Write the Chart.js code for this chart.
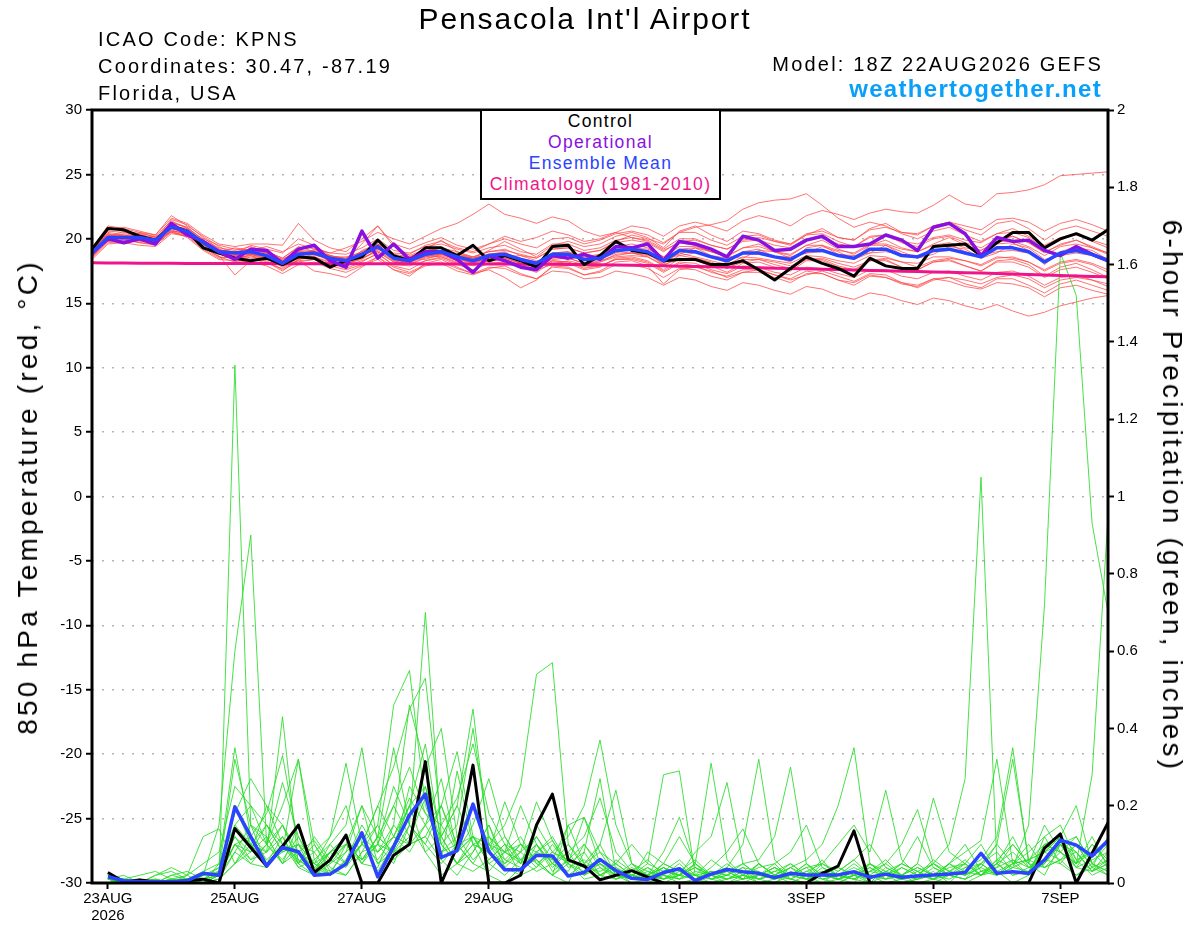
<!DOCTYPE html>
<html>
<head>
<meta charset="utf-8">
<title>Pensacola Int'l Airport - GEFS meteogram</title>
<script src="https://cdn.jsdelivr.net/npm/chart.js@4.4.1/dist/chart.umd.min.js"></script>
<style>
  body { margin: 0; background: #fff; }
  #wrap { position: relative; width: 1200px; height: 927px; overflow: hidden; background: #fff;
          font-family: 'Liberation Sans', Arial, Helvetica, sans-serif; color: #000; }
  #chart { position: absolute; left: 0; top: 0; }
  .txt { position: absolute; white-space: nowrap; line-height: 1; }
  .title { left: 585px; top: 4px; font-size: 30px; letter-spacing: 1.9px; transform: translateX(-50%); }
  .info { left: 98px; font-size: 20px; letter-spacing: 2.2px; }
  .model { right: 97px; top: 54px; font-size: 20px; letter-spacing: 2.2px; }
  .site { right: 98px; top: 77px; font-size: 24px; font-weight: bold; letter-spacing: 1.3px; color: #0aa0f8; }
  #legend { position: absolute; left: 480px; top: 109px; width: 237px; height: 87px; border: 2px solid #000; background: #fff; }
  #legend div { position: absolute; left: 0; width: 100%; text-align: center; font-size: 17.5px; letter-spacing: 1.3px; line-height: 1; }
  .axis-title { position: absolute; white-space: nowrap; line-height: 1; font-size: 28px; letter-spacing: 3.2px; }
</style>
</head>
<body>
<div id="wrap">
  <canvas id="chart" width="1200" height="927"></canvas>

  <div class="txt title">Pensacola Int'l Airport</div>
  <div class="txt info" style="top:29px">ICAO Code: KPNS</div>
  <div class="txt info" style="top:56px">Coordinates: 30.47, -87.19</div>
  <div class="txt info" style="top:83px">Florida, USA</div>
  <div class="txt model">Model: 18Z 22AUG2026 GEFS</div>
  <div class="txt site">weathertogether.net</div>

  <div id="legend">
    <div style="top:2px;color:#000">Control</div>
    <div style="top:23px;color:#8a10e0">Operational</div>
    <div style="top:44px;color:#2a44ff">Ensemble Mean</div>
    <div style="top:65px;color:#f0148c">Climatology (1981-2010)</div>
  </div>

  <div class="axis-title" style="left:28px;top:497px;transform:translate(-50%,-50%) rotate(-90deg)">850 hPa Temperature (red, °C)</div>
  <div class="axis-title" style="left:1172px;top:496px;transform:translate(-50%,-50%) rotate(90deg)">6-hour Precipitation (green, inches)</div>
</div>

<script>
const FONT = "'Liberation Sans', Arial, Helvetica, sans-serif";

// 6-hourly steps from 18Z 22AUG2026 (index 0) to 18Z 7SEP2026 (index 64)
const stepHours = 6;
const tickHours = [6, 54, 102, 150, 222, 270, 318, 366];
const tickLabels = [['23AUG', '2026'], '25AUG', '27AUG', '29AUG', '1SEP', '3SEP', '5SEP', '7SEP'];

// 850 hPa temperature (C)
const tempControl = [
    19.2, 20.8, 20.7, 20.2, 19.9, 21.0, 20.6, 19.3,
    18.9, 18.5, 18.3, 18.5, 18.0, 18.6, 18.5, 17.8,
    18.3, 18.6, 19.9, 18.7, 18.3, 19.3, 19.3, 18.7,
    19.5, 18.3, 18.7, 18.3, 17.8, 19.4, 19.5, 18.0,
    18.7, 19.8, 19.1, 18.9, 18.3, 18.4, 18.4, 18.0,
    18.0, 18.3, 17.6, 16.8, 17.7, 18.6, 18.1, 17.7,
    17.1, 18.5, 17.9, 17.7, 17.7, 19.4, 19.5, 19.6,
    18.7, 19.7, 20.5, 20.5, 19.3, 20.0, 20.4, 19.9,
    20.7,
];

const tempOperational = [
    18.9, 20.0, 19.7, 20.0, 19.6, 21.2, 20.3, 19.8,
    19.0, 18.4, 19.2, 19.1, 18.1, 19.2, 19.5, 18.3,
    17.8, 20.6, 18.5, 19.6, 18.4, 19.0, 19.0, 18.4,
    17.4, 18.7, 18.3, 17.8, 17.6, 18.7, 18.5, 18.8,
    18.4, 19.4, 19.3, 19.6, 18.3, 19.8, 19.6, 19.2,
    18.6, 20.2, 19.9, 19.1, 19.2, 19.9, 20.2, 19.4,
    19.4, 19.6, 20.3, 19.9, 19.1, 20.9, 21.2, 20.4,
    18.7, 20.1, 19.8, 19.9, 19.1, 18.7, 19.4, 18.8,
    18.3,
];

const tempMean = [
    18.9, 20.1, 20.1, 20.1, 19.9, 20.9, 20.6, 19.7,
    19.0, 18.9, 19.0, 18.7, 18.1, 18.8, 18.9, 18.5,
    18.3, 18.8, 19.4, 18.5, 18.3, 18.8, 19.0, 18.6,
    18.3, 18.7, 18.8, 18.4, 18.1, 18.8, 18.8, 18.4,
    18.5, 19.1, 19.2, 19.0, 18.3, 19.1, 19.0, 18.6,
    18.3, 18.9, 18.9, 18.6, 18.4, 19.1, 19.1, 18.7,
    18.5, 19.2, 19.2, 18.7, 18.6, 19.1, 19.2, 18.9,
    18.6, 19.3, 19.3, 19.0, 18.2, 18.9, 19.1, 18.8,
    18.3,
];

const tempClimatology = [
    18.15, 18.13, 18.12, 18.11, 18.10, 18.10, 18.09, 18.09,
    18.08, 18.08, 18.08, 18.08, 18.07, 18.07, 18.07, 18.07,
    18.07, 18.06, 18.06, 18.06, 18.06, 18.05, 18.05, 18.05,
    18.05, 18.04, 18.04, 18.03, 18.03, 18.02, 18.01, 18.00,
    17.99, 17.97, 17.95, 17.93, 17.91, 17.88, 17.86, 17.83,
    17.81, 17.78, 17.75, 17.72, 17.70, 17.67, 17.64, 17.61,
    17.58, 17.55, 17.52, 17.49, 17.46, 17.43, 17.40, 17.37,
    17.34, 17.31, 17.27, 17.24, 17.20, 17.16, 17.12, 17.08,
    17.05,
];

const tempMembers = [
    [19.0,20.5,20.3,20.0,19.8,21.3,20.9,19.9, 19.2,18.6,19.3,19.0,18.5,19.4,19.0,18.2, 18.0,19.1,19.6,18.9,18.8,19.5,19.8,19.3, 19.0,19.6,20.2,19.8,20.1,20.6,20.3,19.8, 20.0,20.5,21.0,20.8,20.2,21.0,21.3,21.0, 20.6,21.4,21.8,21.5,21.0,21.8,22.2,21.9, 21.5,22.0,22.3,22.1,22.0,22.6,23.4,22.7, 22.5,23.5,23.6,23.8,24.2,24.9,25.0,25.1, 25.2],
    [18.6,19.8,19.9,19.7,19.6,20.5,20.3,19.4, 18.6,18.2,18.6,18.3,17.6,18.2,18.4,17.9, 17.6,18.0,18.6,17.8,17.4,18.0,18.2,17.7, 17.3,17.8,17.7,17.2,16.9,17.5,17.4,16.9, 17.0,17.5,17.3,17.0,16.4,17.0,16.8,16.3, 16.0,16.6,16.4,16.0,15.7,16.3,16.1,15.6, 15.3,15.8,15.6,15.2,14.9,15.4,15.2,14.8, 14.5,14.9,14.4,14.0,14.3,14.8,15.1,15.4, 15.6],
    [19.3,20.9,20.6,20.4,20.2,21.4,20.8,20.0, 19.5,19.2,19.1,19.4,19.0,19.6,19.2,18.9, 19.3,19.8,20.5,20.0,19.6,20.2,20.8,21.2, 21.9,22.7,21.9,21.6,21.2,21.7,21.4,20.6, 20.2,20.5,20.1,19.8,19.1,19.7,19.5,19.0, 18.6,19.3,19.6,19.0,18.7,19.5,19.9,19.2, 18.8,19.5,19.9,19.3,19.0,19.6,20.1,19.5, 19.1,19.8,20.2,19.7,19.0,19.5,19.9,19.3, 18.9],
    [18.8,20.2,20.2,20.3,20.0,21.0,20.8,19.8, 19.1,19.0,18.8,18.6,18.4,19.1,19.0,18.6, 18.5,19.0,19.5,18.6,18.6,19.0,19.3,18.8, 18.6,19.0,19.2,18.7,18.5,19.2,19.3,18.9, 19.1,19.8,20.3,20.0,19.6,20.5,20.9,21.1, 21.4,22.3,22.8,23.0,23.1,23.5,22.6,21.6, 20.9,21.3,21.0,20.4,20.0,20.6,20.9,20.3, 19.8,20.4,20.8,20.2,19.5,20.1,20.4,19.8, 19.3],
    [18.7,20.0,20.0,19.8,19.7,20.6,20.4,19.5, 18.8,18.7,18.8,18.4,17.9,18.6,18.6,18.2, 18.0,18.5,19.0,18.2,18.0,18.5,18.7,18.3, 18.0,18.3,18.4,18.0,17.7,18.3,18.2,17.8, 17.9,18.4,18.5,18.2,17.5,18.2,18.1,17.6, 17.3,17.9,17.8,17.4,17.2,17.8,17.7,17.3, 17.0,17.6,17.6,17.1,16.9,17.4,17.5,17.1, 16.8,17.4,17.5,17.1,16.4,17.0,17.2,16.8, 16.3],
    [19.1,20.6,20.5,20.3,20.1,21.2,20.9,19.9, 19.3,19.1,19.4,19.0,18.5,19.3,19.3,18.9, 18.8,19.3,20.0,19.1,18.9,19.4,19.6,19.2, 18.9,19.3,19.5,19.0,18.8,19.6,19.6,19.1, 19.3,19.9,20.1,19.9,19.2,20.0,20.0,19.5, 19.2,19.8,19.9,19.5,19.3,20.0,20.1,19.6, 19.4,20.2,20.3,19.8,19.6,20.1,20.3,19.9, 19.7,20.4,20.5,20.1,19.3,20.0,20.3,19.9, 19.5],
    [18.5,19.7,19.8,19.9,19.6,20.7,20.3,19.3, 18.6,18.5,18.7,18.2,17.5,18.4,18.6,18.1, 17.7,18.2,18.9,17.9,17.6,18.3,18.5,18.0, 17.6,18.1,18.2,17.8,17.4,18.2,18.1,17.6, 17.8,18.5,18.6,18.3,17.6,18.5,18.3,17.9, 17.4,18.1,18.2,17.8,17.5,18.3,18.3,17.8, 17.5,18.3,18.4,17.8,17.6,18.2,18.4,17.9, 17.5,18.3,18.4,18.0,17.1,17.8,18.1,17.6, 17.0],
    [19.0,20.4,20.0,20.5,20.3,21.8,21.0,20.2, 19.4,18.8,19.5,19.2,18.9,20.0,19.5,18.7, 18.4,19.6,21.0,19.4,18.7,19.2,19.9,19.0, 18.5,19.1,19.8,19.2,18.6,19.5,19.8,19.4, 19.6,20.2,20.5,20.1,19.3,20.6,21.0,20.3, 19.8,20.6,20.4,19.9,19.6,20.3,20.8,20.1, 19.9,20.8,21.2,20.5,20.3,21.0,21.3,20.7, 20.3,21.2,21.4,20.8,19.9,20.7,21.0,20.6, 20.2],
    [18.8,20.0,20.3,20.0,19.8,20.8,20.4,19.5, 18.9,18.4,18.8,18.9,18.3,18.5,19.2,18.6, 18.1,18.4,19.2,18.7,18.5,18.4,18.8,18.9, 18.4,18.2,18.6,18.7,18.3,18.5,18.9,18.6, 18.4,18.9,19.3,19.2,18.6,18.8,19.3,19.0, 18.6,18.5,19.1,19.0,18.5,18.9,19.4,19.0, 18.4,18.9,19.5,19.0,18.5,18.8,19.4,19.2, 18.5,18.9,19.6,19.3,18.4,18.7,19.3,19.1, 18.4],
    [19.2,20.3,19.9,20.0,20.2,20.5,20.2,19.6, 19.0,19.3,19.1,18.5,17.8,18.4,18.7,18.6, 18.6,18.9,19.0,18.2,18.1,18.7,18.6,18.1, 18.0,18.6,18.3,17.9,17.6,18.0,18.3,18.0, 18.2,18.6,18.7,18.6,18.0,18.4,18.5,18.2, 17.7,18.2,18.4,18.2,17.9,18.4,18.5,18.1, 17.8,18.3,18.5,18.2,17.8,18.3,18.5,18.3, 17.9,18.5,18.6,18.2,17.6,18.2,18.4,18.1, 17.6],
    [18.6,20.1,20.6,20.4,19.9,21.5,21.1,20.1, 19.2,18.9,18.9,18.6,18.0,18.9,18.8,18.3, 18.0,18.8,19.6,18.4,18.1,19.0,19.3,18.5, 18.1,18.8,19.0,18.3,17.8,18.9,19.0,18.3, 18.4,19.3,19.4,18.9,18.0,19.2,19.3,18.7, 18.1,19.0,19.2,18.6,18.2,19.3,19.5,18.8, 18.4,19.5,19.5,18.8,18.5,19.4,19.6,19.0, 18.5,19.6,19.7,19.1,18.0,19.0,19.4,18.9, 18.2],
    [18.9,19.9,20.0,19.7,19.5,20.6,20.1,19.1, 18.4,18.3,18.2,17.9,17.3,18.0,18.2,17.7, 17.4,17.9,18.4,17.6,17.3,17.9,18.1,17.5, 17.2,17.7,17.9,17.3,16.9,17.8,17.7,17.2, 17.4,18.0,18.0,17.7,17.0,17.7,17.6,17.1, 16.8,17.4,17.4,17.0,16.6,17.3,17.3,16.8, 16.4,17.1,17.0,16.5,16.3,16.9,17.0,16.5, 16.2,16.9,16.9,16.4,15.8,16.5,16.8,16.4, 16.0],
    [19.0,20.2,20.4,20.2,20.0,21.1,20.7,19.8, 19.1,19.0,19.2,18.9,18.4,19.0,19.1,18.7, 18.5,19.0,19.6,18.8,18.6,19.1,19.3,19.0, 18.6,19.0,19.1,18.8,18.5,19.2,19.3,18.9, 19.1,19.7,19.9,19.7,19.0,19.8,19.9,19.5, 19.2,19.9,20.1,19.8,19.6,20.4,20.6,20.1, 19.9,20.7,20.9,20.5,20.4,21.0,21.3,21.0, 20.7,21.5,21.6,21.3,20.6,21.2,21.5,21.1, 20.6],
    [18.4,19.6,19.7,19.5,19.4,20.4,20.2,19.2, 18.5,18.6,18.5,18.1,17.7,18.3,18.4,18.0, 17.9,18.3,18.8,18.0,17.9,18.3,18.6,18.2, 17.9,18.3,18.3,17.9,17.6,18.3,18.2,17.7, 17.9,18.4,18.4,18.1,17.4,18.1,17.9,17.4, 17.1,17.6,17.6,17.2,16.9,17.5,17.3,16.8, 16.6,17.2,17.0,16.6,16.4,16.9,16.7,16.3, 16.1,16.6,16.5,16.2,15.5,16.2,16.4,16.0, 15.7],
    [19.3,21.0,20.8,20.5,20.1,21.0,20.5,19.6, 19.0,18.7,19.2,19.0,18.3,18.7,19.0,18.7, 18.4,18.7,19.2,18.6,18.4,18.6,18.9,18.7, 18.5,18.8,18.5,18.1,18.0,18.5,18.6,18.4, 18.8,19.0,18.9,18.7,18.5,18.7,18.9,18.7, 18.5,18.9,18.8,18.6,18.6,18.9,19.0,18.8, 18.7,18.9,19.0,18.8,18.7,19.0,19.1,18.9, 18.7,19.0,19.1,18.9,18.3,18.7,18.9,18.7, 18.2],
    [18.6,20.0,19.8,20.1,19.9,21.0,20.4,19.6, 19.1,18.5,18.7,18.4,18.2,19.0,18.8,18.4, 18.2,18.6,19.3,18.3,18.2,18.7,18.8,18.4, 18.2,18.5,18.5,18.1,18.0,18.6,18.5,18.1, 18.3,18.7,18.9,18.8,18.1,18.9,18.6,18.3, 18.0,18.6,18.5,18.3,18.1,18.7,18.6,18.3, 18.1,18.7,18.6,18.2,18.1,18.6,18.6,18.3, 18.0,18.6,18.5,18.2,17.5,18.1,18.3,18.0, 17.4],
    [19.0,20.7,20.9,20.6,20.3,21.6,21.2,20.3, 19.6,19.4,19.6,19.6,19.5,21.2,19.9,19.3, 19.0,20.0,21.0,19.6,19.2,19.7,20.1,19.5, 19.2,19.6,20.0,19.6,19.3,20.0,20.1,19.6, 19.9,20.4,20.6,20.3,19.7,20.5,20.5,19.9, 19.5,20.2,20.3,19.8,19.5,20.3,20.4,19.8, 19.4,20.1,20.3,19.7,19.4,20.0,20.2,19.7, 19.3,20.0,20.2,19.7,18.9,19.6,19.9,19.4, 18.9],
    [18.7,19.8,20.1,20.0,19.8,20.6,20.5,19.6, 18.9,18.8,18.8,18.5,17.9,18.5,18.8,18.4, 18.1,18.5,19.1,18.3,18.0,18.6,18.8,18.4, 18.1,18.5,18.6,18.1,17.8,18.4,18.5,18.1, 18.2,18.8,18.9,18.6,17.9,18.7,18.5,18.1, 17.7,18.4,18.4,18.0,17.7,18.4,18.4,17.9, 17.6,18.3,18.3,17.8,17.6,18.2,18.3,17.9, 17.5,18.2,18.2,17.8,17.0,17.6,17.8,17.4, 16.9],
    [19.1,20.4,20.2,19.9,19.8,20.8,20.6,19.4, 18.7,17.2,18.3,18.5,17.9,18.3,17.5,17.3, 17.0,17.8,18.6,17.6,17.1,18.1,18.4,17.8, 17.3,17.6,17.0,16.2,16.8,17.9,17.8,17.2, 17.5,18.2,18.3,17.9,16.5,17.6,17.8,17.5, 17.0,17.4,17.6,17.2,16.8,17.2,17.5,17.1, 16.7,17.3,17.2,16.6,16.2,16.8,17.0,16.8, 16.5,17.0,17.2,16.9,16.2,16.8,17.0,16.8, 16.5],
    [18.9,20.3,20.2,20.2,20.0,21.1,20.6,19.8, 19.1,19.0,19.1,18.9,18.2,18.9,19.0,18.6, 18.3,18.9,19.5,18.6,18.4,18.9,19.1,18.7, 18.5,18.8,18.9,18.5,18.2,18.9,19.0,18.6, 18.8,19.4,19.6,19.3,18.6,19.4,19.4,19.0, 18.7,19.3,19.4,19.0,18.8,19.5,19.5,19.1, 18.9,19.6,19.6,19.2,19.0,19.5,19.7,19.3, 19.1,19.8,19.8,19.4,18.7,19.4,19.6,19.3, 18.8],
];

// 6-hour precipitation (inches); no value at the analysis time
const precipControl = [
    null, 0.027, 0.003, 0.008, 0.003, 0.003, 0.006, 0.01,
    0, 0.141, 0.092, 0.044, 0.095, 0.15, 0.027, 0.06,
    0.124, 0, 0, 0.072, 0.10, 0.314, 0, 0.094,
    0.305, 0, 0, 0.02, 0.15, 0.23, 0.06, 0.044,
    0.008, 0.02, 0.032, 0.015, 0, 0, 0, 0,
    0, 0, 0, 0, 0, 0, 0.025, 0.044,
    0.135, 0, 0, 0, 0, 0, 0, 0,
    0, 0, 0, 0, 0.09, 0.127, 0, 0.077,
    0.156,
];

const precipMean = [
    null, 0.016, 0.006, 0.003, 0.003, 0.003, 0.006, 0.025,
    0.02, 0.197, 0.12, 0.044, 0.092, 0.081, 0.02, 0.023,
    0.049, 0.13, 0.016, 0.094, 0.176, 0.23, 0.066, 0.084,
    0.204, 0.081, 0.034, 0.034, 0.072, 0.07, 0.018, 0.027,
    0.061, 0.032, 0.012, 0.009, 0.027, 0.037, 0.006, 0.023,
    0.035, 0.029, 0.025, 0.014, 0.025, 0.021, 0.021, 0.021,
    0.029, 0.015, 0.023, 0.015, 0.018, 0.021, 0.023, 0.027,
    0.077, 0.025, 0.029, 0.025, 0.06, 0.111, 0.098, 0.07,
    0.11,
];

const precipMembers = [
    [null,0.01,0,0,0,0,0,0.01, 0,1.34,0.15,0.05,0.12,0.04,0.02,0.08, 0.05,0.12,0.03,0.1,0.2,0.08,0.02,0.05, 0.1,0.02,0,0.04,0.06,0.02,0,0.08, 0.27,0.03,0,0,0.02,0,0.01,0, 0,0.02,0,0,0.03,0.01,0,0, 0.02,0,0,0.01,0,0,0.02,0.05, 0.1,0.03,0,0.02,0.05,0.12,0.08,0.03, 0.06],
    [null,0.02,0,0,0.01,0,0,0.02, 0.15,0.6,0.9,0.1,0.05,0.15,0.03,0.02, 0.1,0.2,0.05,0.08,0.12,0.22,0.06,0.02, 0.08,0.15,0.04,0.02,0.1,0.05,0.02,0.03, 0.1,0.24,0.05,0.01,0,0.02,0.05,0.01, 0,0,0.02,0.05,0.01,0,0,0.03, 0.06,0.02,0,0,0.01,0.03,0,0, 0.02,0.06,0.1,0.05,0.15,0.08,0.04,0.1, 0.05],
    [null,0,0.01,0.02,0.03,0.01,0,0, 0.05,0.35,0.12,0.08,0.43,0.05,0.1,0.03, 0.02,0.08,0.15,0.06,0.1,0.3,0.12,0.05, 0.03,0.06,0.1,0.02,0.04,0.08,0.05,0.01, 0.02,0.05,0.1,0.05,0.28,0.29,0.02,0, 0.01,0.03,0,0.01,0.04,0.02,0,0.01, 0,0.05,0.02,0,0.01,0.02,0.05,0.02, 0.04,0.1,0.05,0.08,0.12,0.15,0.06,0.02, 0.04],
    [null,0.01,0,0,0.02,0.04,0.02,0, 0.03,0.32,0.15,0.1,0.2,0.32,0.06,0.02, 0.05,0.1,0.2,0.12,0.22,0.15,0.08,0.1, 0.05,0.03,0.08,0.12,0.05,0.02,0.06,0.04, 0.01,0.06,0.03,0.02,0.08,0.17,0.04,0.02, 0,0.01,0.05,0.02,0,0.02,0.06,0.01, 0.03,0,0.02,0.05,0.03,0.01,0,0.04, 0.06,0.12,0.35,0.05,0.02,0.1,0.04,0.03, 0.08],
    [null,0,0,0,0.01,0,0.02,0.05, 0.08,0.25,0.2,0.15,0.08,0.1,0.05,0.12, 0.2,0.06,0.1,0.25,0.15,0.1,0.2,0.34, 0.12,0.05,0.02,0.06,0.1,0.04,0.08,0.02, 0.05,0.02,0.01,0.08,0.05,0.12,0.05,0.31, 0.06,0.02,0.01,0,0.02,0.04,0.01,0, 0.02,0.04,0.01,0.02,0.05,0.02,0.01,0.03, 0.02,0.05,0.08,0.04,0.06,0.1,0.12,0.05, 0.02],
    [null,0.02,0.01,0,0,0.02,0.03,0.01, 0.04,0.18,0.27,0.2,0.1,0.05,0.12,0.06, 0.1,0.05,0.12,0.2,0.3,0.18,0.12,0.2, 0.45,0.1,0.08,0.05,0.12,0.06,0.02,0.05, 0.08,0.02,0,0.01,0.04,0.02,0.08,0.12, 0.26,0.05,0.02,0.04,0.01,0,0.03,0.02, 0.01,0,0.04,0.02,0,0.01,0.05,0.03, 0.08,0.02,0.05,0.06,0.1,0.08,0.05,0.12, 0.04],
    [null,0.01,0,0.01,0,0,0,0.02, 0.02,0.1,0.08,0.2,0.15,0.08,0.04,0.02, 0.06,0.15,0.08,0.12,0.2,0.25,0.1,0.15, 0.4,0.12,0.05,0.08,0.04,0.1,0.05,0.02, 0.04,0.01,0.03,0.06,0.02,0.05,0.01,0.04, 0.08,0.14,0.05,0.02,0.01,0.03,0.05,0.02, 0.01,0.03,0.06,0.02,0.01,0.04,0.02,0.01, 0.03,0.05,0.02,0.03,0.08,0.12,0.06,0.08, 0.1],
    [null,0,0,0,0,0.01,0.02,0.12, 0.14,0.05,0.12,0.18,0.33,0.1,0.02,0.05, 0.08,0.2,0.12,0.08,0.25,0.18,0.15,0.22, 0.36,0.18,0.1,0.05,0.08,0.11,0.04,0.06, 0.02,0.04,0.01,0.03,0.02,0.01,0.05,0.02, 0.04,0.1,0.32,0.06,0.02,0.01,0.02,0.04, 0.02,0.01,0.03,0.02,0.04,0.02,0.05,0.1, 0.03,0.04,0.06,0.02,0.12,0.05,0.02,0.05, 0.03],
    [null,0.01,0,0,0,0,0.01,0.03, 0.05,0.15,0.2,0.1,0.26,0.12,0.05,0.08, 0.12,0.05,0.04,0.15,0.1,0.12,0.2,0.08, 0.15,0.27,0.12,0.06,0.03,0.05,0.1,0.04, 0.03,0.05,0.02,0.01,0.03,0.06,0.02,0.01, 0.02,0.05,0.06,0.12,0.3,0.05,0.02,0.01, 0.03,0.05,0.02,0.01,0.02,0.01,0.03,0.06, 0.02,0.03,0.05,0.1,0.04,0.06,0.08,0.03, 0.05],
    [null,0,0.01,0,0,0.01,0,0.01, 0.02,0.2,0.1,0.15,0.08,0.32,0.1,0.04, 0.02,0.08,0.1,0.05,0.15,0.08,0.12,0.05, 0.1,0.08,0.21,0.1,0.06,0.02,0.05,0.03, 0.05,0.02,0.04,0.02,0.01,0.03,0.06,0.02, 0.01,0.02,0.04,0.05,0.08,0.15,0.04,0.02, 0.01,0.03,0.02,0.04,0.02,0.05,0.03,0.02, 0.04,0.02,0.05,0.06,0.08,0.1,0.05,0.28, 0.95],
    [null,0.02,0,0,0.01,0,0,0.02, 0.03,0.12,0.06,0.1,0.15,0.05,0.08,0.12, 0.31,0.1,0.06,0.12,0.08,0.15,0.2,0.1, 0.05,0.12,0.08,0.2,0.1,0.03,0.06,0.1, 0.05,0.03,0.01,0.02,0.04,0.02,0.01,0.03, 0.02,0.01,0.05,0.02,0.04,0.06,0.1,0.2, 0.35,0.05,0.02,0.01,0.03,0.05,0.02,0.01, 0.05,0.08,0.03,0.02,0.06,0.05,0.1,0.04, 0.06],
    [null,0,0,0.01,0,0.01,0.01,0, 0.02,0.1,0.05,0.04,0.1,0.06,0.03,0.1, 0.15,0.35,0.1,0.2,0.12,0.25,0.08,0.12, 0.2,0.1,0.15,0.25,0.54,0.57,0.1,0.05, 0.1,0.02,0.05,0.03,0.01,0.04,0.02,0.06, 0.03,0.01,0.02,0.04,0.02,0.01,0.05,0.03, 0.06,0.1,0.04,0.02,0.01,0.02,0.04,0.05, 0.02,0.06,0.04,0.03,0.1,0.08,0.12,0.05, 0.03],
    [null,0.01,0.01,0,0,0,0,0.01, 0.02,0.15,0.1,0.05,0.08,0.1,0.05,0.02, 0.05,0.1,0.15,0.46,0.55,0.2,0.1,0.05, 0.08,0.15,0.06,0.1,0.05,0.08,0.12,0.2, 0.37,0.15,0.05,0.02,0.04,0.01,0.03,0.02, 0.05,0.02,0.01,0.03,0.02,0.05,0.02,0.01, 0.02,0.04,0.02,0.05,0.03,0.01,0.02,0.04, 0.05,0.02,0.04,0.06,0.08,0.12,0.2,0.05, 0.1],
    [null,0,0,0,0.02,0.03,0.01,0, 0.01,0.08,0.15,0.12,0.05,0.08,0.11,0.05, 0.1,0.06,0.12,0.35,0.15,0.1,0.05,0.1, 0.12,0.06,0.1,0.08,0.21,0.11,0.05,0.08, 0.02,0.04,0.02,0.05,0.03,0.02,0.04,0.01, 0.02,0.04,0.03,0.01,0.02,0.04,0.05,0.1, 0.15,0.08,0.24,0.06,0.02,0.01,0.03,0.05, 0.02,0.04,0.1,0.05,0.04,0.06,0.02,0.04, 0.02],
    [null,0,0,0,0,0,0,0, 0.01,0.05,0.1,0.08,0.12,0.05,0.02,0.06, 0.04,0.1,0.2,0.3,0.45,0.53,0.15,0.08, 0.12,0.05,0.08,0.1,0.06,0.02,0.15,0.17, 0.05,0.01,0.02,0.01,0.03,0.02,0.01,0.02, 0.04,0.01,0.02,0.03,0.05,0.02,0.01,0.02, 0.04,0.02,0.05,0.1,0.19,0.05,0.02,0.01, 0.03,0.02,0.06,0.04,0.05,0.1,0.04,0.06, 0.08],
    [null,0.02,0,0,0,0,0.01,0.02, 0.04,0.12,0.08,0.15,0.1,0.04,0.06,0.1, 0.05,0.12,0.08,0.15,0.46,0.3,0.4,0.12, 0.06,0.1,0.04,0.08,0.12,0.05,0.03,0.1, 0.04,0.02,0.01,0.04,0.02,0.01,0.02,0.03, 0.01,0.02,0.05,0.02,0.01,0.03,0.02,0.04, 0.02,0.01,0.03,0.05,0.12,0.04,0.02,0.03, 0.05,0.02,0.04,0.15,0.72,1.63,1.52,0.93, 0.7],
    [null,0.01,0,0,0,0.01,0,0, 0.02,0.08,0.05,0.1,0.06,0.12,0.04,0.08, 0.12,0.05,0.1,0.08,0.15,0.7,0.12,0.2, 0.1,0.08,0.12,0.05,0.15,0.08,0.06,0.04, 0.06,0.03,0.02,0.01,0.05,0.03,0.02,0.01, 0.03,0.05,0.02,0.01,0.02,0.01,0.04,0.02, 0.05,0.02,0.01,0.02,0.05,0.22,0.08,0.05, 0.02,0.05,0.12,0.04,0.08,0.06,0.1,0.04, 0.12],
    [null,0,0,0,0,0,0,0.01, 0.03,0.1,0.12,0.06,0.1,0.08,0.05,0.03, 0.08,0.12,0.05,0.1,0.2,0.36,0.1,0.05, 0.12,0.08,0.05,0.1,0.08,0.06,0.15,0.05, 0.02,0.01,0.03,0.02,0.01,0.02,0.04,0.02, 0.01,0.03,0.01,0.02,0.04,0.01,0.02,0.01, 0.03,0.02,0.01,0.04,0.02,0.05,0.1,0.27, 1.05,0.05,0.02,0.04,0.05,0.1,0.08,0.03, 0.05],
    [null,0.01,0.02,0,0,0,0,0, 0.01,0.05,0.08,0.12,0.05,0.1,0.08,0.02, 0.06,0.1,0.08,0.12,0.1,0.15,0.27,0.08, 0.12,0.1,0.06,0.04,0.08,0.12,0.05,0.17, 0.08,0.05,0.02,0.04,0.01,0.02,0.05,0.02, 0.03,0.01,0.02,0.04,0.02,0.05,0.01,0.02, 0.01,0.03,0.05,0.02,0.04,0.02,0.05,0.08, 0.11,0.32,0.05,0.02,0.1,0.12,0.05,0.08, 0.04],
    [null,0,0,0.01,0,0.02,0.01,0, 0.02,0.1,0.06,0.08,0.15,0.06,0.03,0.08, 0.1,0.06,0.12,0.08,0.1,0.12,0.06,0.29, 0.1,0.12,0.08,0.06,0.1,0.05,0.08,0.12, 0.22,0.08,0.03,0.02,0.05,0.03,0.01,0.03, 0.02,0.04,0.01,0.02,0.05,0.02,0.03,0.01, 0.02,0.05,0.03,0.01,0.02,0.06,0.03,0.02, 0.05,0.1,0.32,0.06,0.04,0.08,0.05,0.1, 0.06],
];

const RED = 'rgba(255, 70, 70, 0.75)';
const GREEN = 'rgba(40, 220, 40, 0.85)';
const BLACK = '#000000';
const PURPLE = '#8a10e0';
const BLUE = '#2a44ff';
const PINK = '#f0148c';

function toPoints(values) {
    return values.map((v, i) => ({ x: i * stepHours, y: v }));
}

// lower order = drawn on top
function lineSet(label, values, color, width, axis, order) {
    return {
        label,
        data: toPoints(values),
        borderColor: color,
        borderWidth: width,
        yAxisID: axis,
        order,
        pointRadius: 0,
        fill: false,
        tension: 0,
        borderJoinStyle: 'round',
    };
}

const framePlugin = {
    id: 'frame',
    afterDatasetsDraw(chart) {
        const { ctx, chartArea: a } = chart;
        ctx.save();
        ctx.strokeStyle = '#000';
        ctx.lineWidth = 3;
        ctx.strokeRect(a.left, a.top, a.right - a.left, a.bottom - a.top);
        ctx.restore();
    },
};

function initMeteogram() {
    const canvas = document.getElementById('chart');
    if (!canvas) {
        return;
    }

    Chart.defaults.font.family = FONT;
    Chart.defaults.color = '#000';

    const datasets = [
        ...tempMembers.map((m, k) => lineSet('Temp member ' + (k + 1), m, RED, 1, 'y', 6)),
        ...precipMembers.map((m, k) => lineSet('Precip member ' + (k + 1), m, GREEN, 1, 'y1', 5)),
        lineSet('Climatology (1981-2010)', tempClimatology, PINK, 3, 'y', 4),
        lineSet('Control precip', precipControl, BLACK, 3, 'y1', 3),
        lineSet('Control', tempControl, BLACK, 3, 'y', 2),
        lineSet('Operational', tempOperational, PURPLE, 3.5, 'y', 1),
        lineSet('Ensemble Mean precip', precipMean, BLUE, 3.5, 'y1', 0),
        lineSet('Ensemble Mean', tempMean, BLUE, 3.5, 'y', 0),
    ];

    // eslint-disable-next-line no-new
    new Chart(canvas, {
        type: 'line',
        data: { datasets },
        options: {
            responsive: false,
            animation: false,
            events: [],
            layout: { padding: { top: 110, left: 0, right: 0, bottom: 0 } },
            plugins: {
                legend: { display: false },
                tooltip: { enabled: false },
                title: { display: false },
            },
            scales: {
                x: {
                    type: 'linear',
                    min: 0,
                    max: 384,
                    afterBuildTicks: (s) => { s.ticks = tickHours.map((v) => ({ value: v })); },
                    afterFit: (s) => { s.height = 44; },
                    grid: { drawOnChartArea: false, drawTicks: true, tickLength: 6, tickWidth: 2, tickColor: '#000' },
                    border: { display: false },
                    ticks: {
                        autoSkip: false,
                        maxRotation: 0,
                        padding: 1,
                        color: '#000',
                        font: { size: 15, lineHeight: 1.13 },
                        callback: (v) => tickLabels[tickHours.indexOf(v)],
                    },
                },
                y: {
                    position: 'left',
                    min: -30,
                    max: 30,
                    afterFit: (s) => { s.width = 92; },
                    grid: { color: '#b4b4b4', lineWidth: 1.5, tickColor: '#000', tickLength: 6, tickWidth: 2 },
                    border: { display: false, dash: [2, 8] },
                    ticks: { stepSize: 5, padding: 4, color: '#000', font: { size: 15 } },
                },
                y1: {
                    position: 'right',
                    min: 0,
                    max: 2,
                    afterFit: (s) => { s.width = 92; },
                    grid: { drawOnChartArea: false, tickColor: '#000', tickLength: 6, tickWidth: 2 },
                    border: { display: false },
                    ticks: {
                        stepSize: 0.2,
                        padding: 3,
                        color: '#000',
                        font: { size: 15 },
                        callback: (v) => String(Math.round(v * 10) / 10),
                    },
                },
            },
        },
        plugins: [framePlugin],
    });
}

if (document.readyState === 'loading') {
    document.addEventListener('DOMContentLoaded', initMeteogram);
} else {
    initMeteogram();
}
</script>
</body>
</html>
